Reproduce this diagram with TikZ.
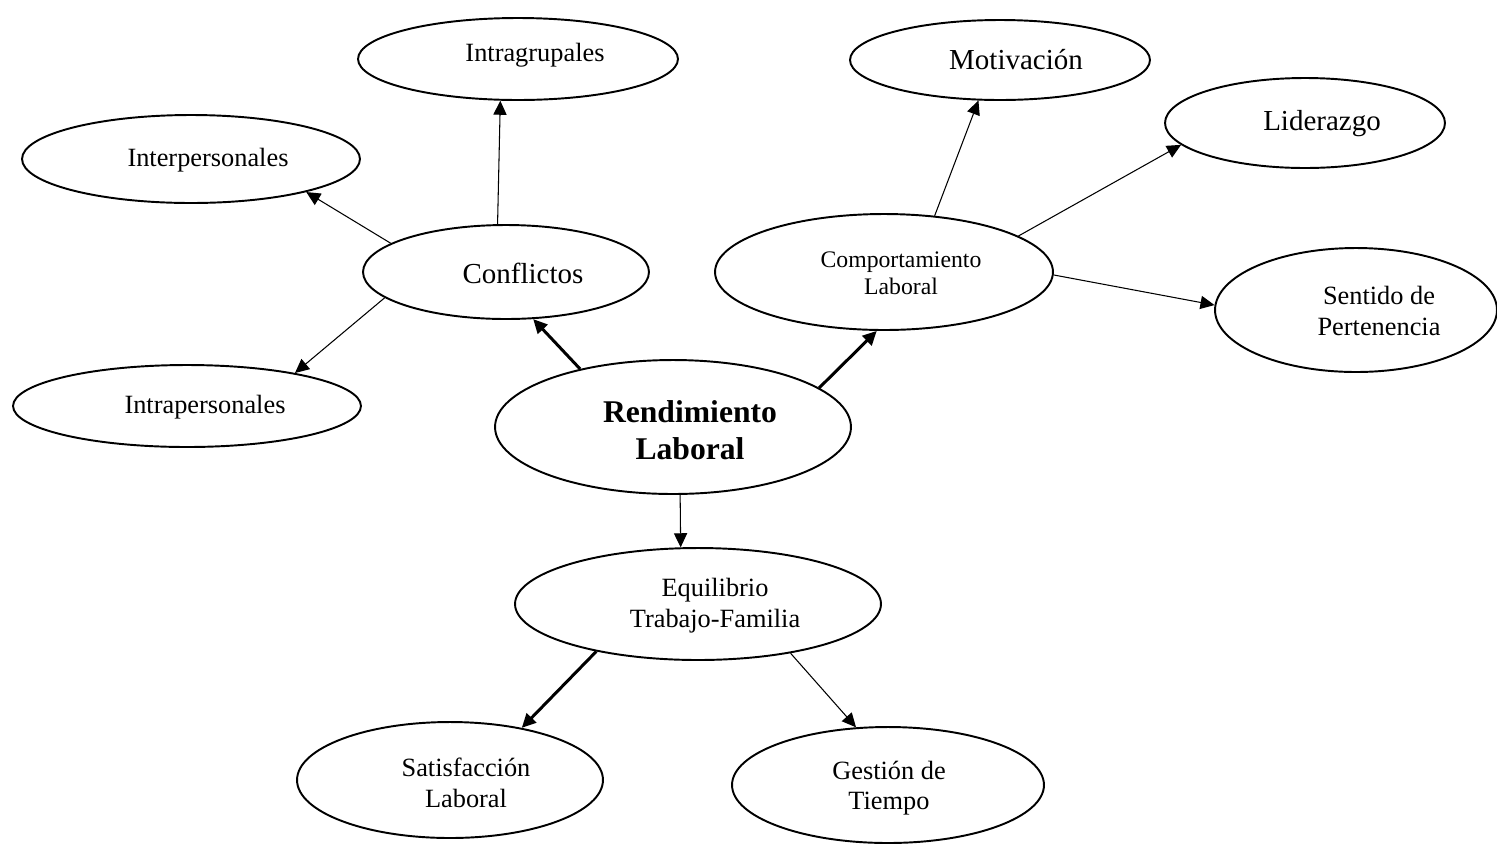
\documentclass[tikz,border=0pt]{standalone}
\usepackage{fontspec}
\setmainfont{Liberation Serif}
\usepackage{tikz}
\usetikzlibrary{shapes.geometric, arrows.meta}
\tikzset{%
    oval/.style={ellipse,draw=black,line width=1.1pt,inner sep=0pt}
}

\begin{document}
\begin{tikzpicture}[x=0.02cm,y=-0.02cm,
        txt/.style={align=center,inner sep=0pt,font=\fontsize{15}{17.5}\selectfont},
        thn/.style={line width=0.6pt,-{Triangle[length=8pt,width=7.5pt]}},
        thk/.style={line width=1.7pt,-{Triangle[length=8pt,width=7.5pt]}}]
        \useasboundingbox (0,0) rectangle (1497,843);
        \node[oval,minimum width=7.12cm,minimum height=2.68cm] (1) at (673,427){};
        \node[oval,minimum width=5.72cm,minimum height=1.88cm] (2) at (506,272){};
        \node[oval,minimum width=6.76cm,minimum height=2.32cm] (3) at (884,272){};
        \node[oval,minimum width=7.32cm,minimum height=2.24cm] (4) at (698,604){};
        \node[oval,minimum width=6.4cm,minimum height=1.64cm] (5) at (518,59){};
        \node[oval,minimum width=6.76cm,minimum height=1.76cm] (6) at (191,159){};
        \node[oval,minimum width=6.96cm,minimum height=1.64cm] (7) at (187,406){};
        \node[oval,minimum width=6.0cm,minimum height=1.6cm] (8) at (1000,60){};
        \node[oval,minimum width=5.6cm,minimum height=1.8cm] (9) at (1305,123){};
        \node[oval,minimum width=5.64cm,minimum height=2.48cm] (10) at (1356,310){};
        \node[oval,minimum width=6.12cm,minimum height=2.32cm] (11) at (450,780){};
        \node[oval,minimum width=6.24cm,minimum height=2.32cm] (12) at (888,785){};

        \node[txt,font=\bfseries\fontsize{18}{21}\selectfont] (1t) at (690,430){Rendimiento\\Laboral};
        \node[txt,font=\fontsize{16.5}{19}\selectfont] (2t) at (523,273){Conflictos};
        \node[txt,font=\fontsize{13.5}{15.5}\selectfont] (3t) at (901,273){Comportamiento\\Laboral};
        \node[txt] (4t) at (715,606){Equilibrio\\Trabajo-Familia};
        \node[txt] (5t) at (535,55){Intragrupales};
        \node[txt] (6t) at (208,160){Interpersonales};
        \node[txt] (7t) at (205,407){Intrapersonales};
        \node[txt,font=\fontsize{16.5}{19}\selectfont] (8t) at (1016,60){Motivación};
        \node[txt,font=\fontsize{16.5}{19}\selectfont] (9t) at (1322,124){Liderazgo};
        \node[txt] (10t) at (1379,311){Sentido de\\Pertenencia};
        \node[txt] (11t) at (466,783){Satisfacción\\Laboral};
        \node[txt] (12t) at (889,788){Gestión de\\Tiempo};

        \path[]
            (1.148.4) edge[thk] (2.-60.6)
            (1.15.1) edge[thk] (3.-97.7)
            (1.-84.8) edge[thn] (4.107.8)
            (2.100.8) edge[thn] (5.-113.4)
            (2.166.8) edge[thn] (6.-16.2)
            (2.-168) edge[thn] (7.17.8)
            (3.48.7) edge[thn] (8.-118.7)
            (3.15.1) edge[thn] (9.-170.5)
            (3.-1.7) edge[thn] (10.178)
            (4.-155.8) edge[thk] (11.36.9)
            (4.-28.2) edge[thn] (12.119.7);
    \end{tikzpicture}
\end{document}
